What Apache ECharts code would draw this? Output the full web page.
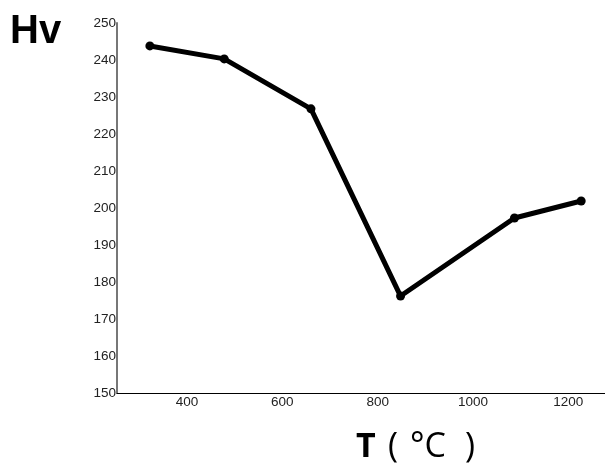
<!DOCTYPE html>
<html>
<head>
<meta charset="utf-8">
<script src="https://cdn.jsdelivr.net/npm/echarts@6/dist/echarts.min.js"></script>
<style>html,body{margin:0;padding:0;background:#fff}#c{width:605px;height:465px}</style>
</head>
<body>
<div id="c"></div>
<script>
const temperatures = [322, 478, 660, 848, 1087, 1227];
const hardness = [243.8, 240.3, 226.8, 176.2, 197.3, 201.9];
const xTickLabels = [400, 600, 800, 1000, 1200];
const yTickLabels = [150, 160, 170, 180, 190, 200, 210, 220, 230, 240, 250];

const chart = echarts.init(document.getElementById('c'), null, {renderer: 'canvas'});
chart.setOption({
  animation: false,
  backgroundColor: '#fff',
  grid: {left: 117, right: 0, top: 23, bottom: 72, containLabel: false},
  xAxis: {
    type: 'value', min: 253, max: 1277,
    axisLine: {show: true, lineStyle: {color: '#000', width: 1}},
    axisTick: {show: false},
    splitLine: {show: false},
    axisLabel: {customValues: xTickLabels, formatter: v => String(v), color: '#222', fontSize: 13.5, fontFamily: 'Liberation Sans', margin: 2}
  },
  yAxis: {
    type: 'value', min: 150, max: 250, interval: 10,
    axisLine: {show: true, lineStyle: {color: '#777', width: 2}},
    axisTick: {show: false},
    splitLine: {show: false},
    axisLabel: {customValues: yTickLabels, formatter: v => String(v), color: '#222', fontSize: 13.5, fontFamily: 'Liberation Sans', margin: 1}
  },
  series: [{
    type: 'line',
    data: temperatures.map((t, i) => [t, hardness[i]]),
    lineStyle: {color: '#000', width: 5},
    itemStyle: {color: '#000'},
    symbol: 'circle', symbolSize: 9,
    z: 5
  }],
  graphic: [
    {type: 'text', left: 10, top: 12, style: {text: 'Hv', font: 'bold 40px "Liberation Sans"', fill: '#000'}},
    {type: 'text', left: 356, top: 430, style: {text: 'T', font: 'bold 34px "Open Sans"', fill: '#000'}},
    {type: 'text', left: 388, top: 430, style: {text: '(', font: '34px "Open Sans"', fill: '#000'}},
    {type: 'text', left: 410, top: 430, style: {text: '°C', font: '34px "Open Sans"', fill: '#000'}},
    {type: 'text', left: 465, top: 430, style: {text: ')', font: '34px "Open Sans"', fill: '#000'}}
  ]
});
</script>
</body>
</html>
